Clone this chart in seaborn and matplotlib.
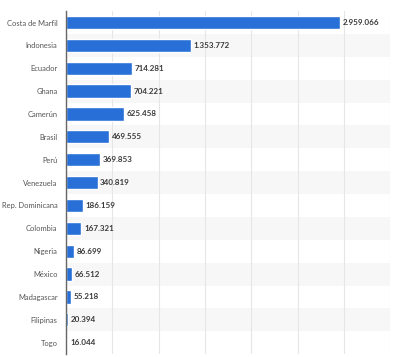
import numpy as np
import pandas as pd
import matplotlib
matplotlib.use('Agg')
import matplotlib.pyplot as plt
import seaborn as sns

countries = ['Costa de Marfil', 'Indonesia', 'Ecuador', 'Ghana', 'Camerún', 'Brasil', 'Perú',
             'Venezuela', 'Rep. Dominicana', 'Colombia', 'Nigeria', 'México', 'Madagascar',
             'Filipinas', 'Togo']
production = [2959066, 1353772, 714281, 704221, 625458, 469555, 369853,
              340819, 186159, 167321, 86699, 66512, 55218, 20394, 16044]

sns.set_theme(style='white')
plt.rcParams['font.family'] = ['Lato', 'DejaVu Sans']

df = pd.DataFrame({'country': countries, 'value': production})

fig = plt.figure(figsize=(4.2, 3.57), dpi=100)
ax = fig.add_axes([0.157, 0.008, 0.772, 0.961])

# alternating row bands
for i in range(len(countries)):
    if i % 2 == 1:
        ax.axhspan(i - 0.5, i + 0.5, color='#f7f7f7', zorder=0, lw=0)

sns.barplot(data=df, y='country', x='value', orient='h', color='#2870d8',
            width=0.58, saturation=1, ax=ax, zorder=3)

ax.set_xlim(0, 3500000)
ax.set_ylim(len(countries) - 0.5, -0.5)
ax.set_xticks(np.arange(0, 3500001, 500000))
ax.xaxis.grid(True, color='#e6e6e6', lw=0.8)
ax.set_axisbelow(True)
ax.tick_params(axis='x', length=0, labelbottom=False)
ax.tick_params(axis='y', length=0, pad=6, labelsize=5.4, labelcolor='#555555')
ax.set_xlabel('')
ax.set_ylabel('')

for s in ['top', 'right', 'bottom']:
    ax.spines[s].set_visible(False)
ax.spines['left'].set_color('#666666')
ax.spines['left'].set_linewidth(1.0)
ax.spines['left'].set_zorder(5)

for i, v in enumerate(production):
    label = f'{v:,}'.replace(',', '.')
    ax.text(v + 28000, i, label, va='center', ha='left', fontsize=5.8,
            color='#3a3a3a', fontweight='bold', zorder=4)

fig.savefig('out.png', dpi=100)
